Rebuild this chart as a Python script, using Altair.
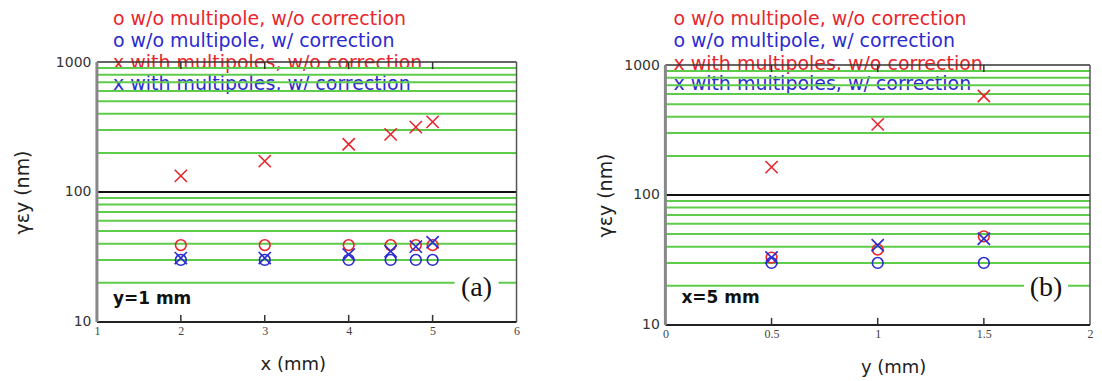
import altair as alt
import pandas as pd

RED = "#e8262c"
BLUE = "#2b2bd0"
GREEN = "#5ccc4a"

# ---- panel (a): y = 1 mm, values vs x (mm)
xa = [2, 3, 4, 4.5, 4.8, 5]
a_nomp_nocorr = [39, 39, 39, 39, 39, 39]
a_nomp_corr = [30, 30, 30, 30, 30, 30]
a_mp_nocorr = [133, 173, 233, 278, 316, 347]
a_mp_corr = [31, 31, 33, 35, 38, 41]

# ---- panel (b): x = 5 mm, values vs y (mm)
yb = [0.5, 1.0, 1.5]
b_nomp_nocorr = [33, 38, 48]
b_nomp_corr = [30, 30, 30]
b_mp_nocorr = [164, 350, 578]
b_mp_corr = [33, 41, 46]

legend_labels = [
    "o w/o multipole, w/o correction",
    "o w/o multipole, w/ correction",
    "x with multipoles, w/o correction",
    "x with multipoles, w/ correction",
]
legend_colors = [RED, BLUE, RED, BLUE]

grid_minor = [20, 30, 40, 50, 60, 70, 80, 90, 200, 300, 400, 500, 600, 700, 800, 900]
grid_major = [100]
y_ticks = [10, 100, 1000]

a_axis_ticks = [1, 2, 3, 4, 5, 6]
a_inner_ticks = [2, 3, 4, 5]
b_axis_ticks = [0, 0.5, 1, 1.5, 2]
b_inner_ticks = [0.5, 1, 1.5]

XSHAPE = "M-1,-1L1,1M-1,1L1,-1"


def panel(pos, series, xdom, axis_ticks, inner_ticks, xfmt, xtitle, note, tag,
          W, H, t0, leg_dx, leg_dy, ytitle_x, xtitle_x, note_dy, tag_x, tag_dy):
    rows = []
    for si, vals in enumerate(series):
        for p, v in zip(pos, vals):
            rows.append({"pos": p, "val": v, "s": si})
    df = pd.DataFrame(rows)

    xs = alt.Scale(domain=xdom, nice=False, zero=False)
    ys = alt.Scale(type="log", domain=[10, 1000], nice=False, range=[H, t0])
    xaxis = alt.Axis(values=axis_ticks, format=xfmt, grid=False, ticks=False, tickSize=0,
                     domain=False, labelFont="Liberation Serif", labelFontSize=12,
                     labelColor="#444", labelPadding=4, labelFlush=False,
                     titleFont="DejaVu Sans", titleFontSize=18, titleFontWeight="normal",
                     titleColor="#222", titleY=43, titleX=xtitle_x, titleBaseline="middle")
    yaxis = alt.Axis(values=y_ticks, format="d", grid=False, ticks=False, tickSize=0,
                     domain=False, labelFont="DejaVu Sans", labelFontSize=14,
                     labelColor="#333", labelPadding=6,
                     titleFont="DejaVu Sans", titleFontSize=19, titleFontWeight="normal",
                     titleColor="#222", titleX=ytitle_x, titleY=(H + t0) / 2,
                     titleBaseline="middle")
    xenc = alt.X("pos:Q", scale=xs, axis=xaxis, title=xtitle)
    yenc = alt.Y("val:Q", scale=ys, axis=yaxis, title="γεy (nm)")
    col = alt.Color("s:N", scale=alt.Scale(domain=[0, 1, 2, 3], range=[RED, BLUE, RED, BLUE]),
                    legend=None)

    one = pd.DataFrame({"k": [0]})
    layers = []
    for i, (lab, c) in enumerate(zip(legend_labels, legend_colors)):
        layers.append(
            alt.Chart(pd.DataFrame({"t": [lab]})).mark_text(
                align="left", baseline="middle", font="DejaVu Sans", fontSize=19, color=c
            ).encode(text="t:N", x=alt.value(leg_dx), y=alt.value(leg_dy[i]))
        )
    layers.append(
        alt.Chart(pd.DataFrame({"val": grid_minor})).mark_rule(color=GREEN, strokeWidth=2)
        .encode(y=yenc)
    )
    layers.append(
        alt.Chart(pd.DataFrame({"val": grid_major})).mark_rule(color="#111", strokeWidth=2)
        .encode(y=yenc)
    )
    layers.append(
        alt.Chart(one).mark_rect(color="white").encode(
            x=alt.value(tag_x - 22), x2=alt.value(tag_x + 22),
            y=alt.value(H - tag_dy - 15), y2=alt.value(H - tag_dy + 15))
    )
    layers.append(
        alt.Chart(pd.DataFrame({"t": [tag]})).mark_text(
            align="center", baseline="middle", font="Liberation Serif", fontSize=28, color="#111"
        ).encode(text="t:N", x=alt.value(tag_x), y=alt.value(H - tag_dy))
    )
    layers.append(
        alt.Chart(pd.DataFrame({"t": [note]})).mark_text(
            align="left", baseline="middle", font="DejaVu Sans", fontSize=17,
            fontWeight="bold", color="#111"
        ).encode(text="t:N", x=alt.value(16), y=alt.value(H - note_dy))
    )
    # frame
    layers.append(alt.Chart(one).mark_rule(color="#333", strokeWidth=1.5).encode(
        x=alt.value(0), x2=alt.value(W), y=alt.value(t0)))
    layers.append(alt.Chart(one).mark_rule(color="#555", strokeWidth=1.5).encode(
        x=alt.value(W), y=alt.value(t0), y2=alt.value(H)))
    layers.append(alt.Chart(one).mark_rule(color="#222", strokeWidth=2).encode(
        x=alt.value(0), x2=alt.value(W), y=alt.value(H)))
    layers.append(alt.Chart(one).mark_rule(color="#888", strokeWidth=3).encode(
        x=alt.value(0), y=alt.value(t0), y2=alt.value(H)))
    # inward ticks
    tdf = pd.DataFrame({"pos": inner_ticks})
    layers.append(alt.Chart(tdf).mark_rule(color="#333", strokeWidth=1.5).encode(
        x=xenc, y=alt.value(H), y2=alt.value(H - 7)))
    layers.append(alt.Chart(tdf).mark_rule(color="#333", strokeWidth=1.5).encode(
        x=xenc, y=alt.value(t0), y2=alt.value(t0 + 7)))
    # markers
    layers.append(
        alt.Chart(df).transform_filter("datum.s < 2").mark_point(
            shape="circle", filled=False, size=115, strokeWidth=1.6, opacity=1
        ).encode(x=xenc, y=yenc, color=col)
    )
    layers.append(
        alt.Chart(df).transform_filter("datum.s >= 2").mark_point(
            shape=XSHAPE, filled=False, size=150, strokeWidth=1.6, opacity=1
        ).encode(x=xenc, y=yenc, color=col)
    )
    return alt.layer(*layers).properties(width=W, height=H)


left = panel(xa, [a_nomp_nocorr, a_nomp_corr, a_mp_nocorr, a_mp_corr], [1, 6],
             a_axis_ticks, a_inner_ticks, "d", "x (mm)", "y=1 mm", "(a)",
             420, 260, 0, 16, [-43, -21, 1, 22], -74, 196, 23, 380, 34)
right = panel(yb, [b_nomp_nocorr, b_nomp_corr, b_mp_nocorr, b_mp_corr], [0, 2],
              b_axis_ticks, b_inner_ticks, "~g", "y (mm)", "x=5 mm", "(b)",
              425, 263, 3, 8, [-43, -21, 2, 22], -60, 228, 27, 381, 37)

chart = alt.hconcat(left, right, spacing=75).properties(
    padding={"left": 5, "top": 1, "right": 0, "bottom": 0}
).configure_view(stroke="transparent")

chart.save("out.html", embed_options={"renderer": "svg", "actions": False})
